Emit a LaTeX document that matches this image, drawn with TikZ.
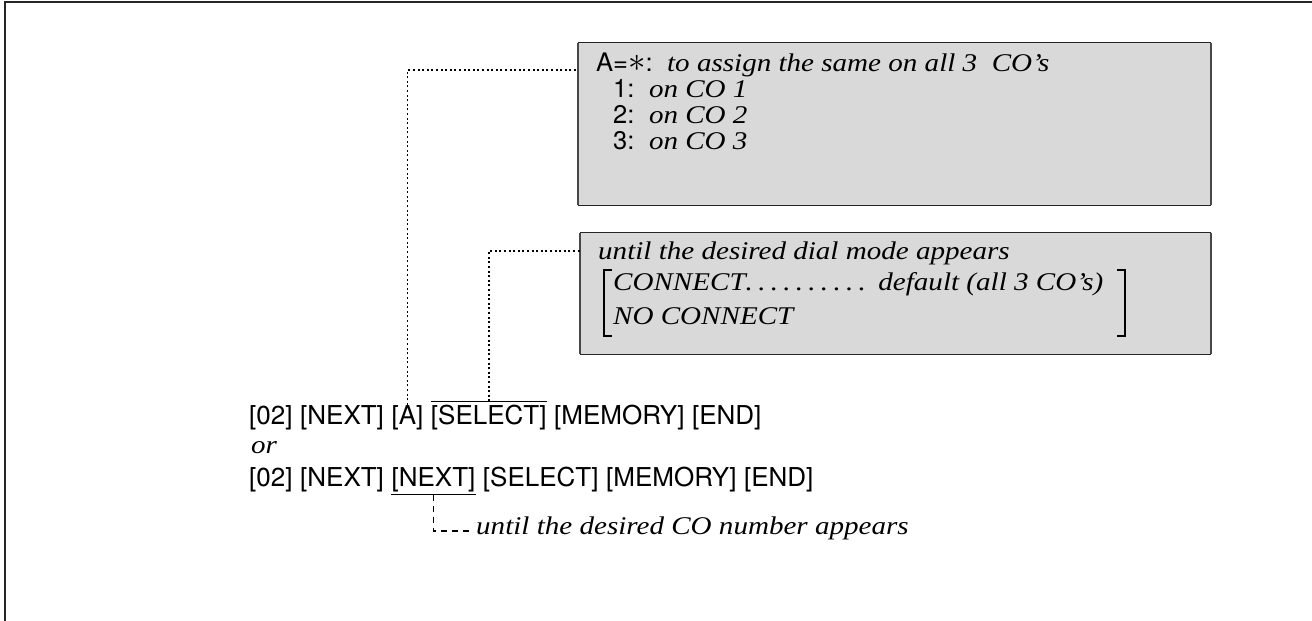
\documentclass[tikz,border=0pt]{standalone}
\usepackage{fontspec}
\setmainfont{Liberation Serif}
\newfontfamily\keyf{TeX Gyre Heros}
\newfontfamily\itfam[FakeStretch=1.14,Ligatures=TeX]{Liberation Serif}
\usetikzlibrary{calc}
\def\kgap{7.2pt}
\newcommand\skey[1]{{\keyf\upshape #1}}
\newcommand\bigstar{\scalebox{1.4}{$\ast$}}
\tikzset{
  key/.style={font=\keyf\fontsize{26}{30}\selectfont, inner sep=0pt, anchor=base west},
  itx/.style={font=\itfam\itshape\fontsize{25.5}{28}\selectfont, inner sep=0pt, anchor=base west},
  infobox/.style={fill=black!15, inner sep=0pt},
  sideedge/.style={line width=2.2pt, draw=black!72},
  flatedge/.style={line width=1.3pt, draw=black!85},
  leader/.style={line width=1.5pt, dash pattern=on 2pt off 2.6pt},
  tick/.style={line width=1.1pt, dash pattern=on 6pt off 5pt},
  markline/.style={line width=1.2pt},
  bracketline/.style={line width=1.4pt},
  frameline/.style={line width=2.5pt, draw=black!85}
}
\begin{document}
\begin{tikzpicture}[x=1pt,y=-1pt]
\useasboundingbox (0,0) rectangle (1312,621);
% frame
\draw[frameline] (5,621) -- (5,2) -- (1312,2);
% info boxes
\node[infobox, minimum width=633pt, minimum height=162pt] (box1) at (894.5,124) {};
\node[infobox, minimum width=631pt, minimum height=121pt] (box2) at (895.5,293.5) {};
\foreach \b in {box1,box2}{
  \draw[flatedge] (\b.north west) -- (\b.north east);
  \draw[flatedge] (\b.south west) -- (\b.south east);
  \draw[sideedge] (\b.north west) -- (\b.south west);
  \draw[sideedge] (\b.north east) -- (\b.south east);
}
% box 1 text
\node[itx] (b1l1) at (596,71) {\skey{A=}\bigstar\skey{:}\ \ to assign the same on all 3\ \ CO’s};
\node[itx] (b1l2) at (613,97) {\skey{1:}\ \ on CO 1};
\node[itx] (b1l3) at (613,123) {\skey{2:}\ \ on CO 2};
\node[itx] (b1l4) at (613,149) {\skey{3:}\ \ on CO 3};
% box 2 text
\node[itx] (b2l1) at (598,259) {until the desired dial mode appears};
\node[itx] (b2l2) at (613,290) {\hbox to 490pt{CONNECT\xleaders\hbox to 12.5pt{.\hss}\hfill\ default (all 3 CO’s)}};
\node[itx] (b2l3) at (613,324) {NO CONNECT};
\draw[bracketline] (612,270) -- (604,270) -- (604,336) -- (612,336);
\draw[bracketline] (1117,270) -- (1125,270) -- (1125,336) -- (1117,336);
% key sequence 1
\node[key] (r1a) at (249,424) {[02]};
\node[key] (r1b) at ([xshift=\kgap]r1a.base east) {[NEXT]};
\node[key] (r1c) at ([xshift=\kgap]r1b.base east) {[A]};
\node[key] (r1d) at ([xshift=\kgap]r1c.base east) {[SELECT]};
\node[key] (r1e) at ([xshift=\kgap]r1d.base east) {[MEMORY]};
\node[key] (r1f) at ([xshift=\kgap]r1e.base east) {[END]};
% or
\node[itx] (orw) at (251,453) {or};
% key sequence 2
\node[key] (r2a) at (249,486) {[02]};
\node[key] (r2b) at ([xshift=\kgap]r2a.base east) {[NEXT]};
\node[key] (r2c) at ([xshift=\kgap]r2b.base east) {[NEXT]};
\node[key] (r2d) at ([xshift=\kgap]r2c.base east) {[SELECT]};
\node[key] (r2e) at ([xshift=\kgap]r2d.base east) {[MEMORY]};
\node[key] (r2f) at ([xshift=\kgap]r2e.base east) {[END]};
% over/underlines
\draw[markline] ([yshift=3pt]r1d.north west) -- ([yshift=3pt]r1d.north east);
\draw[markline] ([yshift=-3pt]r2c.south west) -- ([yshift=-3pt]r2c.south east);
% leaders
\coordinate (y1) at (0,70);
\coordinate (y2) at (0,251);
\draw[leader] (r1c.north) |- (box1.west |- y1);
\draw[leader] ([yshift=3pt]r1d.north) |- (box2.west |- y2);
% bottom note
\node[itx] (bt) at (476,534) {until the desired CO number appears};
\draw[tick] ([yshift=-3pt]r2c.south) |- ([xshift=-2pt,yshift=3pt]bt.base west);
\end{tikzpicture}
\end{document}
